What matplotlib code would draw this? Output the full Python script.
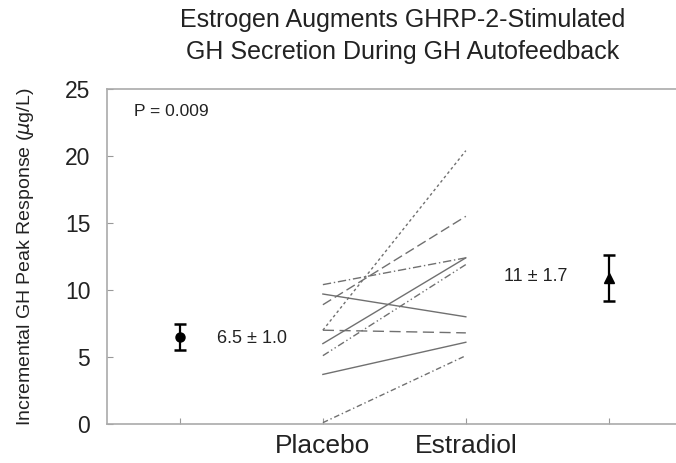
import matplotlib
matplotlib.use("Agg")
import matplotlib.pyplot as plt

plt.rcParams['font.family'] = ['Liberation Sans', 'DejaVu Sans']

# Individual subjects: placebo -> estradiol
placebo = [7.0, 8.9, 10.4, 9.7, 6.0, 5.1, 7.0, 3.7, 0.1]
estradiol = [20.4, 15.5, 12.4, 8.0, 12.4, 11.9, 6.8, 6.1, 5.1]
styles = [(0, (2, 2)), (0, (7, 3)), (0, (6, 2, 1, 2)), '-', '-',
          (0, (5, 2, 1, 2, 1, 2)), (0, (8, 4)), '-', (0, (4, 2, 1, 2))]

mean_placebo, sem_placebo = 6.5, 1.0
mean_estradiol, sem_estradiol = 10.9, 1.7

x_labels = ['', 'Placebo', 'Estradiol', '']
x_pos = [1, 2, 3, 4]

fig = plt.figure(figsize=(6.76, 4.63), dpi=100)
ax = fig.add_axes([107/676, 39/463, 1 - 107/676, (424-89)/463])

for p, e, ls in zip(placebo, estradiol, styles):
    ax.plot([2, 3], [p, e], color='#707070', lw=1.0, linestyle=ls)

ax.errorbar([1], [mean_placebo], yerr=[sem_placebo], fmt='o', color='black',
            ms=6.5, capsize=4, elinewidth=1.6, capthick=1.8)
ax.errorbar([4], [mean_estradiol], yerr=[sem_estradiol], fmt='^', color='black',
            ms=6.5, capsize=4, elinewidth=1.6, capthick=1.8)

ax.text(1.26, mean_placebo - 0.1, '6.5 ± 1.0', fontsize=13, va='center', ha='left', color='#222222')
ax.text(3.71, mean_estradiol + 0.1, '11 ± 1.7', fontsize=13, va='center', ha='right', color='#222222')
ax.text(0.68, 23.3, 'P = 0.009', fontsize=12.5, va='center', ha='left', color='#222222')

ax.set_xlim(0.49, 4.47)
ax.set_ylim(0, 25)
ax.set_yticks([0, 5, 10, 15, 20, 25])
ax.set_xticks(x_pos)
ax.set_xticklabels(x_labels)
ax.tick_params(axis='both', direction='in', length=4, color='#999999', labelcolor='#222222')
ax.tick_params(axis='y', labelsize=16.5, pad=12)
ax.tick_params(axis='x', labelsize=19, pad=7)
for s in ['left', 'bottom', 'top']:
    ax.spines[s].set_color('#aaaaaa')
    ax.spines[s].set_linewidth(1.2)
ax.spines['right'].set_visible(False)

ax.set_ylabel('Incremental GH Peak Response ($\\mu$g/L)', fontsize=14, color='#222222', labelpad=21)
fig.text(403/676, 1 - 36/463, 'Estrogen Augments GHRP-2-Stimulated\nGH Secretion During GH Autofeedback',
         ha='center', va='center', fontsize=18, color='#222222', linespacing=1.38)

fig.savefig('out.png', dpi=100)
